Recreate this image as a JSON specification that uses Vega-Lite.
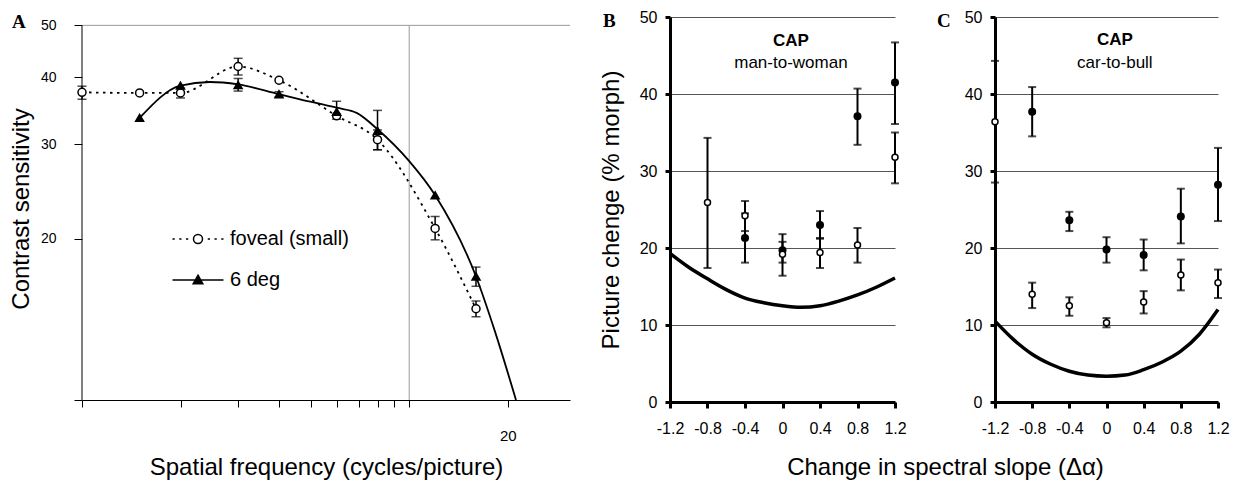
{
  "$schema": "https://vega.github.io/schema/vega-lite/v6.json",
  "background": "white",
  "padding": {"left": 9, "top": 9, "right": 5, "bottom": 5},
  "bounds": "flush",
  "spacing": 100,
  "config": {
    "font": "Liberation Sans",
    "view": {"stroke": null},
    "axis": {"labelColor": "black", "titleColor": "black", "tickColor": "black", "domainColor": "black", "labelFont": "Liberation Sans", "titleFont": "Liberation Sans", "titleFontWeight": "normal", "labelFlush": false, "labelOverlap": false},
    "title": {"font": "Liberation Serif", "fontWeight": "bold", "fontSize": 19, "anchor": "start", "frame": "group", "baseline": "alphabetic", "offset": 0, "color": "black"}
  },
  "datasets": {
    "aPts": [
      {"series": "foveal (small)", "f": 1, "v": 37.5, "lo": 36.4, "hi": 38.5},
      {"series": "foveal (small)", "f": 1.5, "v": 37.4, "lo": null, "hi": null},
      {"series": "foveal (small)", "f": 2, "v": 37.4, "lo": 36.6, "hi": 38.2},
      {"series": "foveal (small)", "f": 3, "v": 41.9, "lo": 40.4, "hi": 43.4},
      {"series": "foveal (small)", "f": 4, "v": 39.5, "lo": null, "hi": null},
      {"series": "foveal (small)", "f": 6, "v": 33.9, "lo": null, "hi": null},
      {"series": "foveal (small)", "f": 8, "v": 30.6, "lo": 29.3, "hi": 31.9},
      {"series": "foveal (small)", "f": 12, "v": 20.9, "lo": 19.9, "hi": 22.0},
      {"series": "foveal (small)", "f": 16, "v": 14.8, "lo": 14.3, "hi": 15.3},
      {"series": "6 deg", "f": 1.5, "v": 33.6, "lo": null, "hi": null},
      {"series": "6 deg", "f": 2, "v": 38.6, "lo": null, "hi": null},
      {"series": "6 deg", "f": 3, "v": 38.7, "lo": 37.7, "hi": 39.8},
      {"series": "6 deg", "f": 4, "v": 37.2, "lo": 36.8, "hi": 37.6},
      {"series": "6 deg", "f": 6, "v": 34.5, "lo": 33.4, "hi": 36.1},
      {"series": "6 deg", "f": 8, "v": 31.8, "lo": 29.3, "hi": 34.7},
      {"series": "6 deg", "f": 12, "v": 24.1, "lo": null, "hi": null},
      {"series": "6 deg", "f": 16, "v": 17.0, "lo": 16.3, "hi": 17.7}
    ],
    "aLines": [
      {"series": "foveal (small)", "f": 1, "v": 37.5},
      {"series": "foveal (small)", "f": 1.5, "v": 37.4},
      {"series": "foveal (small)", "f": 2, "v": 37.4},
      {"series": "foveal (small)", "f": 3, "v": 41.9},
      {"series": "foveal (small)", "f": 4, "v": 39.5},
      {"series": "foveal (small)", "f": 6, "v": 33.9},
      {"series": "foveal (small)", "f": 8, "v": 30.6},
      {"series": "foveal (small)", "f": 12, "v": 20.9},
      {"series": "foveal (small)", "f": 16, "v": 14.8},
      {"series": "6 deg", "f": 1.5, "v": 33.6},
      {"series": "6 deg", "f": 2, "v": 38.6},
      {"series": "6 deg", "f": 2.46, "v": 39.2},
      {"series": "6 deg", "f": 3, "v": 38.8},
      {"series": "6 deg", "f": 4, "v": 37.2},
      {"series": "6 deg", "f": 4.64, "v": 36.4},
      {"series": "6 deg", "f": 6, "v": 35.1},
      {"series": "6 deg", "f": 6.93, "v": 34.3},
      {"series": "6 deg", "f": 8, "v": 32.0},
      {"series": "6 deg", "f": 10, "v": 27.9},
      {"series": "6 deg", "f": 12, "v": 24.1},
      {"series": "6 deg", "f": 16, "v": 17.0},
      {"series": "6 deg", "f": 18.3, "v": 13.4},
      {"series": "6 deg", "f": 21.2, "v": 10.0}
    ],
    "bPts": [
      {"cond": "open", "x": -0.8, "v": 25.9, "lo": 17.4, "hi": 34.3},
      {"cond": "open", "x": -0.4, "v": 24.2, "lo": 22.2, "hi": 26.1},
      {"cond": "open", "x": 0, "v": 19.2, "lo": 16.4, "hi": 21.8},
      {"cond": "open", "x": 0.4, "v": 19.4, "lo": 17.4, "hi": 21.3},
      {"cond": "open", "x": 0.8, "v": 20.4, "lo": 18.1, "hi": 22.6},
      {"cond": "open", "x": 1.2, "v": 31.8, "lo": 28.4, "hi": 35.0},
      {"cond": "filled", "x": -0.4, "v": 21.3, "lo": 18.1, "hi": 24.5},
      {"cond": "filled", "x": 0, "v": 19.7, "lo": 18.1, "hi": 20.8},
      {"cond": "filled", "x": 0.4, "v": 23.0, "lo": 21.2, "hi": 24.8},
      {"cond": "filled", "x": 0.8, "v": 37.1, "lo": 33.4, "hi": 40.7},
      {"cond": "filled", "x": 1.2, "v": 41.5, "lo": 36.1, "hi": 46.7}
    ],
    "bCurve": [
      {"x": -1.2, "v": 19.3}, {"x": -1.0, "v": 17.5}, {"x": -0.8, "v": 16.0}, {"x": -0.6, "v": 14.6},
      {"x": -0.4, "v": 13.5}, {"x": -0.2, "v": 12.9}, {"x": 0, "v": 12.5}, {"x": 0.2, "v": 12.3},
      {"x": 0.4, "v": 12.5}, {"x": 0.6, "v": 13.1}, {"x": 0.8, "v": 13.9}, {"x": 1.0, "v": 14.9}, {"x": 1.2, "v": 16.1}
    ],
    "cPts": [
      {"cond": "open", "x": -1.2, "v": 36.4, "lo": 28.5, "hi": 44.3},
      {"cond": "open", "x": -0.8, "v": 14.0, "lo": 12.2, "hi": 15.5},
      {"cond": "open", "x": -0.4, "v": 12.5, "lo": 11.2, "hi": 13.6},
      {"cond": "open", "x": 0, "v": 10.3, "lo": 9.7, "hi": 10.9},
      {"cond": "open", "x": 0.4, "v": 13.0, "lo": 11.5, "hi": 14.4},
      {"cond": "open", "x": 0.8, "v": 16.5, "lo": 14.5, "hi": 18.5},
      {"cond": "open", "x": 1.2, "v": 15.5, "lo": 13.5, "hi": 17.2},
      {"cond": "filled", "x": -0.8, "v": 37.7, "lo": 34.5, "hi": 40.9},
      {"cond": "filled", "x": -0.4, "v": 23.6, "lo": 22.2, "hi": 24.7},
      {"cond": "filled", "x": 0, "v": 19.8, "lo": 18.1, "hi": 21.4},
      {"cond": "filled", "x": 0.4, "v": 19.1, "lo": 17.1, "hi": 21.1},
      {"cond": "filled", "x": 0.8, "v": 24.1, "lo": 20.6, "hi": 27.7},
      {"cond": "filled", "x": 1.2, "v": 28.2, "lo": 23.5, "hi": 33.0}
    ],
    "cCurve": [
      {"x": -1.2, "v": 10.5}, {"x": -1.0, "v": 8.1}, {"x": -0.8, "v": 6.2}, {"x": -0.6, "v": 4.9},
      {"x": -0.4, "v": 4.0}, {"x": -0.2, "v": 3.5}, {"x": 0, "v": 3.35}, {"x": 0.2, "v": 3.5},
      {"x": 0.4, "v": 4.2}, {"x": 0.6, "v": 5.2}, {"x": 0.8, "v": 6.6}, {"x": 1.0, "v": 8.8}, {"x": 1.2, "v": 12.0}
    ]
  },
  "hconcat": [
    {
      "width": 488,
      "height": 383,
      "title": {"text": "A", "dx": -70, "dy": 19},
      "layer": [
        {
          "data": {"name": "aPts"},
          "transform": [{"filter": "false"}],
          "mark": {"type": "point", "filled": true, "stroke": "black", "strokeWidth": 1.5, "opacity": 1, "size": 900},
          "encoding": {
            "x": {"field": "f", "type": "quantitative", "title": "Spatial frequency (cycles/picture)", "scale": {"type": "log", "domain": [1, 31], "nice": false}},
            "y": {"field": "v", "type": "quantitative", "title": "Contrast sensitivity", "scale": {"type": "log", "domain": [10, 51.83], "nice": false}},
            "shape": {"field": "series", "type": "nominal",
              "scale": {"domain": ["foveal (small)", "6 deg"], "range": [
                "M-1.7,0h0.15M-1.25,0h0.15M-0.8,0h0.15M0.65,0h0.15M1.1,0h0.15M1.55,0h0.15M-0.3,0a0.3,0.3 0 1,0 0.6,0a0.3,0.3 0 1,0 -0.6,0Z",
                "M-1.7,0H1.7M0,-0.32L0.32,0.25L-0.32,0.25Z"]},
              "legend": {"orient": "none", "legendX": 100, "legendY": 206, "title": null, "padding": 0,
                "labelFontSize": 20, "labelFont": "Liberation Sans", "labelColor": "black", "labelOffset": 16,
                "symbolSize": 900, "symbolStrokeWidth": 1.5, "symbolFillColor": "white", "symbolOpacity": 1, "rowPadding": 15}},
            "fill": {"field": "series", "type": "nominal",
              "scale": {"domain": ["foveal (small)", "6 deg"], "range": ["white", "black"]}}
          }
        },
        {
          "data": {"values": [{}]},
          "mark": {"type": "rule", "color": "#999999", "strokeWidth": 1},
          "encoding": {
            "x": {"datum": 10, "type": "quantitative", "scale": {"type": "log", "domain": [1, 31], "nice": false}},
            "y": {"datum": 10, "type": "quantitative", "scale": {"type": "log", "domain": [10, 51.83], "nice": false}},
            "y2": {"datum": 50}
          }
        },
        {
          "data": {"values": [{}]},
          "mark": {"type": "rule", "color": "#999999", "strokeWidth": 1},
          "encoding": {
            "x": {"datum": 1, "type": "quantitative", "scale": {"type": "log", "domain": [1, 31], "nice": false}},
            "x2": {"datum": 31},
            "y": {"datum": 50, "type": "quantitative", "scale": {"type": "log", "domain": [10, 51.83], "nice": false}}
          }
        },
        {
          "data": {"values": [{}]},
          "mark": {"type": "rule", "color": "black", "strokeWidth": 1},
          "encoding": {
            "x": {"datum": 1, "type": "quantitative", "scale": {"type": "log", "domain": [1, 31], "nice": false}},
            "y": {"datum": 10, "type": "quantitative", "scale": {"type": "log", "domain": [10, 51.83], "nice": false}},
            "y2": {"datum": 50}
          }
        },
        {
          "data": {"name": "aLines"},
          "transform": [{"filter": "datum.series == 'foveal (small)'"}],
          "mark": {"type": "line", "color": "black", "strokeWidth": 1.8, "strokeDash": [2.5, 4.5], "interpolate": "monotone"},
          "encoding": {
            "x": {"field": "f", "type": "quantitative", "scale": {"type": "log", "domain": [1, 31], "nice": false},
              "axis": {"values": [1, 2, 3, 4, 5, 6, 7, 8, 9, 10, 20], "tickCount": 30, "labelExpr": "datum.value == 20 ? '20' : ''", "tickSize": 7, "domainWidth": 1, "labelFontSize": 15, "labelPadding": 21, "grid": false, "labelOverlap": false,
                "title": "Spatial frequency (cycles/picture)", "titleFontSize": 24, "titleBaseline": "alphabetic", "titleY": 74}},
            "y": {"field": "v", "type": "quantitative", "scale": {"type": "log", "domain": [10, 51.83], "nice": false},
              "axis": {"values": [10, 20, 30, 40, 50], "tickCount": 30, "labelExpr": "datum.value == 10 ? '' : '' + datum.value", "domain": false, "tickSize": 8, "labelFontSize": 14, "labelPadding": 18, "grid": false, "labelOverlap": false,
                "title": "Contrast sensitivity", "titleFontSize": 24, "titlePadding": 7}}
          }
        },
        {
          "data": {"name": "aLines"},
          "transform": [{"filter": "datum.series == '6 deg'"}],
          "mark": {"type": "line", "color": "black", "strokeWidth": 1.8, "interpolate": "monotone"},
          "encoding": {
            "x": {"field": "f", "type": "quantitative", "title": "Spatial frequency (cycles/picture)", "scale": {"type": "log", "domain": [1, 31], "nice": false}},
            "y": {"field": "v", "type": "quantitative", "title": "Contrast sensitivity", "scale": {"type": "log", "domain": [10, 51.83], "nice": false}}
          }
        },
        {
          "data": {"name": "aPts"},
          "transform": [{"filter": "isValid(datum.lo)"}],
          "mark": {"type": "errorbar", "ticks": {"size": 9}, "thickness": 1.5, "color": "black"},
          "encoding": {
            "x": {"field": "f", "type": "quantitative", "title": "Spatial frequency (cycles/picture)", "scale": {"type": "log", "domain": [1, 31], "nice": false}},
            "y": {"field": "lo", "type": "quantitative", "title": "Contrast sensitivity", "scale": {"type": "log", "domain": [10, 51.83], "nice": false}},
            "y2": {"field": "hi"}
          }
        },
        {
          "data": {"name": "aPts"},
          "mark": {"type": "point", "filled": true, "stroke": "black", "strokeWidth": 1.5, "opacity": 1, "size": 64},
          "encoding": {
            "x": {"field": "f", "type": "quantitative", "title": "Spatial frequency (cycles/picture)", "scale": {"type": "log", "domain": [1, 31], "nice": false}},
            "y": {"field": "v", "type": "quantitative", "title": "Contrast sensitivity", "scale": {"type": "log", "domain": [10, 51.83], "nice": false}},
            "shape": {"condition": {"test": "datum.series == '6 deg'", "value": "triangle-up"}, "value": "circle"},
            "fill": {"condition": {"test": "datum.series == '6 deg'", "value": "black"}, "value": "white"}
          }
        }
      ]
    },
    {
      "width": 225,
      "height": 385,
      "title": {"text": "B", "dx": -67, "dy": 26},
      "layer": [
        {
          "data": {"name": "bCurve"},
          "mark": {"type": "line", "color": "black", "strokeWidth": 3.5, "interpolate": "monotone"},
          "encoding": {
            "x": {"field": "x", "type": "quantitative", "scale": {"domain": [-1.2, 1.2], "nice": false, "zero": false},
              "axis": {"values": [-1.2, -0.8, -0.4, 0, 0.4, 0.8, 1.2], "tickCount": 30, "labelExpr": "datum.value < 0 ? '-' + format(-datum.value, '.1f') : (datum.value == 0 ? '0' : format(datum.value, '.1f'))",
                "domainWidth": 3, "tickWidth": 3, "tickSize": 6, "labelFontSize": 16, "labelPadding": 12, "grid": false, "labelOverlap": false,
                "title": "Change in spectral slope (Δα)", "titleFontSize": 24, "titleX": 275, "titleY": 72, "titleBaseline": "alphabetic", "titleAlign": "center"}},
            "y": {"field": "v", "type": "quantitative", "title": "Picture chenge (% morph)", "scale": {"domain": [0, 50], "nice": false},
              "axis": {"values": [0, 10, 20, 30, 40, 50], "tickCount": 30, "domainWidth": 3, "tickWidth": 3, "tickSize": 5, "labelFontSize": 16, "labelPadding": 8, "labelOverlap": false,
                "grid": true, "gridColor": "#555555", "gridWidth": 1,
                "titleFontSize": 24, "titlePadding": 16}}
          }
        },
        {
          "data": {"name": "bPts"},
          "mark": {"type": "errorbar", "ticks": {"size": 8}, "thickness": 2, "color": "black"},
          "encoding": {
            "x": {"field": "x", "type": "quantitative", "title": "Change in spectral slope (Δα)"},
            "y": {"field": "lo", "type": "quantitative", "title": "Picture chenge (% morph)"},
            "y2": {"field": "hi"}
          }
        },
        {
          "data": {"name": "bPts"},
          "transform": [{"filter": "datum.cond == 'filled'"}],
          "mark": {"type": "point", "shape": "circle", "filled": true, "fill": "black", "size": 64, "opacity": 1},
          "encoding": {
            "x": {"field": "x", "type": "quantitative", "title": "Change in spectral slope (Δα)"},
            "y": {"field": "v", "type": "quantitative", "title": "Picture chenge (% morph)"}
          }
        },
        {
          "data": {"name": "bPts"},
          "transform": [{"filter": "datum.cond == 'open'"}],
          "mark": {"type": "point", "shape": "circle", "filled": true, "fill": "white", "stroke": "black", "strokeWidth": 1.5, "size": 36, "opacity": 1},
          "encoding": {
            "x": {"field": "x", "type": "quantitative", "title": "Change in spectral slope (Δα)"},
            "y": {"field": "v", "type": "quantitative", "title": "Picture chenge (% morph)"}
          }
        },
        {
          "data": {"values": [{}]},
          "mark": {"type": "text", "text": "CAP", "fontWeight": "bold", "fontSize": 17, "color": "black", "baseline": "middle", "align": "center"},
          "encoding": {"x": {"datum": 0.09}, "y": {"datum": 46.9}}
        },
        {
          "data": {"values": [{}]},
          "mark": {"type": "text", "text": "man-to-woman", "fontSize": 17, "color": "black", "baseline": "middle", "align": "center"},
          "encoding": {"x": {"datum": 0.09}, "y": {"datum": 44.0}}
        }
      ]
    },
    {
      "width": 223,
      "height": 385,
      "title": {"text": "C", "dx": -58, "dy": 26},
      "layer": [
        {
          "data": {"name": "cCurve"},
          "mark": {"type": "line", "color": "black", "strokeWidth": 3.5, "interpolate": "monotone"},
          "encoding": {
            "x": {"field": "x", "type": "quantitative", "scale": {"domain": [-1.2, 1.2], "nice": false, "zero": false},
              "axis": {"values": [-1.2, -0.8, -0.4, 0, 0.4, 0.8, 1.2], "tickCount": 30, "labelExpr": "datum.value < 0 ? '-' + format(-datum.value, '.1f') : (datum.value == 0 ? '0' : format(datum.value, '.1f'))",
                "domainWidth": 3, "tickWidth": 3, "tickSize": 6, "labelFontSize": 16, "labelPadding": 12, "grid": false, "labelOverlap": false, "title": null}},
            "y": {"field": "v", "type": "quantitative", "scale": {"domain": [0, 50], "nice": false},
              "axis": {"values": [0, 10, 20, 30, 40, 50], "tickCount": 30, "domainWidth": 3, "tickWidth": 3, "tickSize": 5, "labelFontSize": 16, "labelPadding": 8, "labelOverlap": false,
                "grid": true, "gridColor": "#555555", "gridWidth": 1, "title": null}}
          }
        },
        {
          "data": {"name": "cPts"},
          "mark": {"type": "errorbar", "ticks": {"size": 8}, "thickness": 2, "color": "black"},
          "encoding": {
            "x": {"field": "x", "type": "quantitative", "title": null},
            "y": {"field": "lo", "type": "quantitative", "title": null},
            "y2": {"field": "hi"}
          }
        },
        {
          "data": {"name": "cPts"},
          "transform": [{"filter": "datum.cond == 'filled'"}],
          "mark": {"type": "point", "shape": "circle", "filled": true, "fill": "black", "size": 64, "opacity": 1},
          "encoding": {
            "x": {"field": "x", "type": "quantitative", "title": null},
            "y": {"field": "v", "type": "quantitative", "title": null}
          }
        },
        {
          "data": {"name": "cPts"},
          "transform": [{"filter": "datum.cond == 'open'"}],
          "mark": {"type": "point", "shape": "circle", "filled": true, "fill": "white", "stroke": "black", "strokeWidth": 1.5, "size": 36, "opacity": 1},
          "encoding": {
            "x": {"field": "x", "type": "quantitative", "title": null},
            "y": {"field": "v", "type": "quantitative", "title": null}
          }
        },
        {
          "data": {"values": [{}]},
          "mark": {"type": "text", "text": "CAP", "fontWeight": "bold", "fontSize": 17, "color": "black", "baseline": "middle", "align": "center"},
          "encoding": {"x": {"datum": 0.09}, "y": {"datum": 47.0}}
        },
        {
          "data": {"values": [{}]},
          "mark": {"type": "text", "text": "car-to-bull", "fontSize": 17, "color": "black", "baseline": "middle", "align": "center"},
          "encoding": {"x": {"datum": 0.09}, "y": {"datum": 44.0}}
        }
      ]
    }
  ]
}
